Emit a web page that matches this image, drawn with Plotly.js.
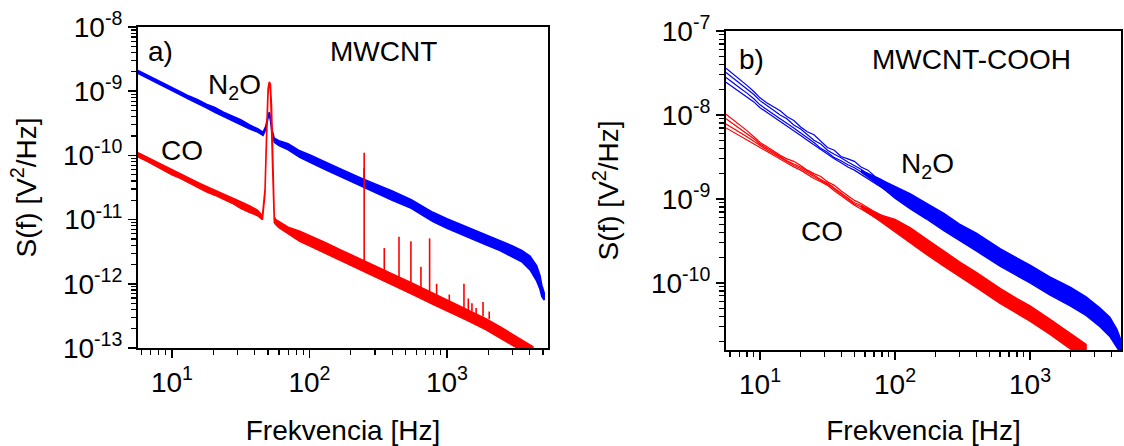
<!DOCTYPE html>
<html>
<head>
<meta charset="utf-8">
<script src="https://cdn.plot.ly/plotly-3.0.1.min.js"></script>
<style>html,body{margin:0;padding:0;background:#fff;}#chart{width:1124px;height:446px;}</style>
</head>
<body>
<div id="chart"></div>
<script>
// ---------- Panel a) MWCNT ----------
const fBlueA = [5.66, 6.5, 7.5, 8.7, 10, 11.5, 13.3, 15.4, 17.8, 20.5, 23.7, 27.4, 31.6, 36.5, 42, 46, 48, 50, 51, 52, 53.5, 55.5, 60, 70, 85, 100, 130, 170, 245, 400, 550, 790, 1000, 1400, 1900, 2430, 3000, 3500, 4020, 4500, 4750, 4900, 5100];
const blueALo = [1.9e-9, 1.65e-9, 1.4e-9, 1.2e-9, 1.02e-9, 8.8e-10, 7.5e-10, 6.5e-10, 5.5e-10, 4.7e-10, 4.1e-10, 3.5e-10, 3.0e-10, 2.6e-10, 2.3e-10, 2.05e-10, 2.5e-10, 3.8e-10, 4.3e-10, 3.5e-10, 2.2e-10, 1.6e-10, 1.42e-10, 1.22e-10, 9.3e-11, 7.9e-11, 6.0e-11, 4.6e-11, 3.2e-11, 2.0e-11, 1.5e-11, 9.3e-12, 7.3e-12, 5.4e-12, 4.1e-12, 3.3e-12, 2.6e-12, 2.2e-12, 1.65e-12, 1.1e-12, 8.2e-13, 6.3e-13, 5.6e-13];
const blueAHi = [2.1e-9, 1.8e-9, 1.55e-9, 1.32e-9, 1.12e-9, 9.8e-10, 8.4e-10, 7.4e-10, 6.3e-10, 5.6e-10, 4.7e-10, 4.1e-10, 3.6e-10, 3.0e-10, 2.6e-10, 2.3e-10, 2.8e-10, 4.2e-10, 4.7e-10, 4.0e-10, 2.5e-10, 1.85e-10, 1.7e-10, 1.52e-10, 1.18e-10, 1.03e-10, 7.9e-11, 6.1e-11, 4.3e-11, 2.8e-11, 2.05e-11, 1.3e-11, 1.03e-11, 7.7e-12, 5.9e-12, 4.8e-12, 3.9e-12, 3.3e-12, 2.7e-12, 1.9e-12, 1.35e-12, 9.5e-13, 7.2e-13];

const fRedA = [5.66, 6.5, 7.5, 8.7, 10, 11.5, 13.3, 15.4, 17.8, 20.5, 23.7, 27.4, 31.6, 36.5, 42, 45.5, 47.5, 49, 50, 51, 52, 53, 54, 55.5, 57, 60, 70, 85, 100, 130, 170, 240, 300, 400, 550, 790, 1000, 1400, 1900, 2430, 3000, 3600, 4220];
const redALo = [9.5e-11, 8.2e-11, 7.0e-11, 5.9e-11, 5.0e-11, 4.4e-11, 3.7e-11, 3.2e-11, 2.7e-11, 2.4e-11, 2.1e-11, 1.8e-11, 1.5e-11, 1.3e-11, 1.15e-11, 1.0e-11, 2.5e-11, 2.5e-10, 9.0e-10, 1.3e-9, 1.15e-9, 4.5e-10, 6.0e-11, 9.0e-12, 8.3e-12, 7.5e-12, 6.0e-12, 4.6e-12, 3.9e-12, 3.0e-12, 2.25e-12, 1.6e-12, 1.28e-12, 9.6e-13, 7.0e-13, 4.8e-13, 3.85e-13, 2.7e-13, 1.95e-13, 1.42e-13, 1.1e-13, 0.88e-13, 0.7e-13];
const redAHi = [1.1e-10, 9.5e-11, 8.0e-11, 6.8e-11, 5.9e-11, 5.2e-11, 4.4e-11, 3.8e-11, 3.3e-11, 2.9e-11, 2.5e-11, 2.2e-11, 1.9e-11, 1.65e-11, 1.4e-11, 1.15e-11, 3.0e-11, 3.2e-10, 1.1e-9, 1.4e-9, 1.3e-9, 6.0e-10, 8.0e-11, 1.1e-11, 1.0e-11, 9.3e-12, 7.6e-12, 6.6e-12, 5.7e-12, 4.4e-12, 3.35e-12, 2.4e-12, 1.9e-12, 1.43e-12, 1.04e-12, 7.2e-13, 5.7e-13, 4.0e-13, 2.9e-13, 2.15e-13, 1.65e-13, 1.32e-13, 1.05e-13];

// narrow harmonic lines on the spectra
const spikeF    = [250, 350, 448, 547, 647, 748, 841, 1040, 1330, 1430, 1520, 1630, 1830, 2030];
const spikeBase = [2.0e-12, 1.4e-12, 1.1e-12, 9.5e-13, 8.2e-13, 7.2e-13, 6.5e-13, 5.3e-13, 4.2e-13, 3.9e-13, 3.7e-13, 3.4e-13, 3.1e-13, 2.8e-13];
const spikePeak = [1.1e-10, 3.6e-12, 5.4e-12, 4.6e-12, 1.85e-12, 5.1e-12, 1.0e-12, 6.8e-13, 1.0e-12, 5.9e-13, 5.0e-13, 4.2e-13, 5.2e-13, 3.7e-13];
const blueSpikeF    = [250];
const blueSpikeBase = [3.7e-11];
const blueSpikePeak = [6.3e-11];

// ---------- Panel b) MWCNT-COOH ----------
const fCurveB = [5.6, 6.3, 7.1, 8, 9, 10, 11.2, 12.6, 14.1, 15.8, 17.8, 20, 22.4, 25.1, 28.2, 31.6, 35.5, 39.8, 44.7, 50, 56, 63, 71, 79, 89, 100];
const blueB1 = [3.6e-8, 3.1e-8, 2.65e-8, 2.25e-8, 1.9e-8, 1.6e-8, 1.4e-8, 1.25e-8, 1.12e-8, 9.6e-9, 8.6e-9, 7.2e-9, 6.3e-9, 5.8e-9, 4.8e-9, 4.1e-9, 3.8e-9, 3.2e-9, 3.0e-9, 2.8e-9, 2.4e-9, 2.2e-9, 1.85e-9, 1.7e-9, 1.5e-9, 1.32e-9];
const blueB2 = [3.2e-8, 2.75e-8, 2.4e-8, 2.05e-8, 1.75e-8, 1.48e-8, 1.3e-8, 1.12e-8, 1.0e-8, 9.0e-9, 7.6e-9, 6.8e-9, 5.9e-9, 5.0e-9, 4.5e-9, 3.8e-9, 3.4e-9, 3.1e-9, 2.75e-9, 2.5e-9, 2.25e-9, 1.95e-9, 1.75e-9, 1.55e-9, 1.38e-9, 1.22e-9];
const blueB3 = [2.8e-8, 2.45e-8, 2.1e-8, 1.82e-8, 1.56e-8, 1.32e-8, 1.15e-8, 1.02e-8, 9.0e-9, 8.0e-9, 7.0e-9, 6.1e-9, 5.4e-9, 4.7e-9, 4.0e-9, 3.6e-9, 3.1e-9, 2.85e-9, 2.55e-9, 2.35e-9, 2.1e-9, 1.85e-9, 1.62e-9, 1.45e-9, 1.3e-9, 1.15e-9];
const blueB4 = [2.45e-8, 2.15e-8, 1.88e-8, 1.65e-8, 1.43e-8, 1.22e-8, 1.08e-8, 9.5e-9, 8.4e-9, 7.4e-9, 6.6e-9, 5.7e-9, 5.0e-9, 4.4e-9, 3.9e-9, 3.4e-9, 3.0e-9, 2.7e-9, 2.4e-9, 2.2e-9, 1.95e-9, 1.75e-9, 1.55e-9, 1.38e-9, 1.22e-9, 1.08e-9];
const redB1 = [1.02e-8, 8.8e-9, 7.6e-9, 6.5e-9, 5.5e-9, 4.7e-9, 4.2e-9, 3.7e-9, 3.3e-9, 3.0e-9, 2.8e-9, 2.5e-9, 2.2e-9, 2.0e-9, 1.85e-9, 1.6e-9, 1.45e-9, 1.25e-9, 1.1e-9, 9.6e-10, 8.8e-10, 7.8e-10, 7.0e-10, 6.4e-10, 5.6e-10, 5.2e-10];
const redB2 = [9.0e-9, 7.9e-9, 6.9e-9, 6.0e-9, 5.2e-9, 4.5e-9, 4.0e-9, 3.6e-9, 3.15e-9, 2.85e-9, 2.6e-9, 2.4e-9, 2.15e-9, 1.9e-9, 1.7e-9, 1.55e-9, 1.35e-9, 1.2e-9, 1.05e-9, 9.0e-10, 8.4e-10, 7.4e-10, 6.6e-10, 6.0e-10, 5.4e-10, 4.9e-10];
const redB3 = [7.8e-9, 7.0e-9, 6.2e-9, 5.5e-9, 4.85e-9, 4.3e-9, 3.85e-9, 3.45e-9, 3.1e-9, 2.75e-9, 2.5e-9, 2.3e-9, 2.05e-9, 1.85e-9, 1.65e-9, 1.5e-9, 1.3e-9, 1.15e-9, 1.0e-9, 8.7e-10, 8.0e-10, 7.0e-10, 6.3e-10, 5.7e-10, 5.1e-10, 4.6e-10];
const redB4 = [7.0e-9, 6.3e-9, 5.7e-9, 5.1e-9, 4.55e-9, 4.1e-9, 3.7e-9, 3.3e-9, 2.95e-9, 2.65e-9, 2.4e-9, 2.2e-9, 1.95e-9, 1.75e-9, 1.6e-9, 1.45e-9, 1.25e-9, 1.1e-9, 9.6e-10, 8.4e-10, 7.6e-10, 6.7e-10, 6.0e-10, 5.4e-10, 4.8e-10, 4.4e-10];

const fBlueBandB = [56, 79, 100, 130, 170, 230, 300, 400, 600, 800, 1000, 1400, 2000, 2600, 3300, 3900, 4400, 4700];
const blueBLo = [2.1e-9, 1.4e-9, 1.02e-9, 7.6e-10, 5.8e-10, 4.2e-10, 3.2e-10, 2.4e-10, 1.58e-10, 1.22e-10, 1.0e-10, 7.2e-11, 5.3e-11, 4.1e-11, 3.0e-11, 2.3e-11, 1.7e-11, 1.45e-11];
const blueBHi = [2.2e-9, 1.68e-9, 1.42e-9, 1.15e-9, 8.9e-10, 6.7e-10, 5.0e-10, 3.9e-10, 2.55e-10, 1.98e-10, 1.62e-10, 1.18e-10, 8.8e-11, 6.8e-11, 5.0e-11, 3.9e-11, 2.8e-11, 2.1e-11];

const fRedBandB = [56, 79, 100, 130, 170, 230, 300, 400, 600, 800, 1000, 1400, 1900, 2300, 2600];
const redBLo = [7.9e-10, 5.4e-10, 4.1e-10, 3.0e-10, 2.2e-10, 1.58e-10, 1.18e-10, 8.8e-11, 5.7e-11, 4.3e-11, 3.5e-11, 2.45e-11, 1.72e-11, 1.38e-11, 1.2e-11];
const redBHi = [8.3e-10, 6.4e-10, 5.7e-10, 4.5e-10, 3.35e-10, 2.4e-10, 1.78e-10, 1.33e-10, 8.6e-11, 6.5e-11, 5.3e-11, 3.7e-11, 2.6e-11, 2.1e-11, 1.85e-11];

// ---------- tick labels ----------
const xTickVals = [10, 100, 1000];
const xTickText = ['10<sup>1</sup>', '10<sup>2</sup>', '10<sup>3</sup>'];
const yTickValsA = [1e-13, 1e-12, 1e-11, 1e-10, 1e-9, 1e-8];
const yTickTextA = ['10<sup>-13</sup>', '10<sup>-12</sup>', '10<sup>-11</sup>', '10<sup>-10</sup>', '10<sup>-9</sup>', '10<sup>-8</sup>'];
const yTickValsB = [1e-10, 1e-9, 1e-8, 1e-7];
const yTickTextB = ['10<sup>-10</sup>', '10<sup>-9</sup>', '10<sup>-8</sup>', '10<sup>-7</sup>'];

const BLUE = '#0000ff', RED = '#ff0000';

function band(f, lo, hi, color, xa, ya) {
  const xs = f.concat(f.slice().reverse());
  const ys = hi.concat(lo.slice().reverse());
  return {x: xs, y: ys, xaxis: xa, yaxis: ya, mode: 'lines', fill: 'toself',
          fillcolor: color, line: {color: color, width: 1.5}, hoverinfo: 'skip', showlegend: false};
}
function curve(f, v, color, xa, ya, w) {
  return {x: f, y: v, xaxis: xa, yaxis: ya, mode: 'lines', line: {color: color, width: w || 1.2}, showlegend: false};
}
function spikes(f, base, peak, color, xa, ya) {
  const xs = [], ys = [];
  f.forEach((v, i) => { xs.push(v, v, null); ys.push(base[i], peak[i], null); });
  return {x: xs, y: ys, xaxis: xa, yaxis: ya, mode: 'lines', line: {color: color, width: 1.6}, showlegend: false};
}

const data = [
  band(fBlueA, blueALo, blueAHi, BLUE, 'x', 'y'),
  spikes(blueSpikeF, blueSpikeBase, blueSpikePeak, BLUE, 'x', 'y'),
  band(fRedA, redALo, redAHi, RED, 'x', 'y'),
  spikes(spikeF, spikeBase, spikePeak, RED, 'x', 'y'),
  curve(fCurveB, blueB1, BLUE, 'x2', 'y2'),
  curve(fCurveB, blueB2, BLUE, 'x2', 'y2'),
  curve(fCurveB, blueB3, BLUE, 'x2', 'y2'),
  curve(fCurveB, blueB4, BLUE, 'x2', 'y2'),
  band(fBlueBandB, blueBLo, blueBHi, BLUE, 'x2', 'y2'),
  curve(fCurveB, redB1, RED, 'x2', 'y2'),
  curve(fCurveB, redB2, RED, 'x2', 'y2'),
  curve(fCurveB, redB3, RED, 'x2', 'y2'),
  curve(fCurveB, redB4, RED, 'x2', 'y2'),
  band(fRedBandB, redBLo, redBHi, RED, 'x2', 'y2')
];

function minorVals(d0, d1) {
  const out = [];
  for (let d = d0; d <= d1; d++) for (let k = 2; k <= 9; k++) out.push(k * Math.pow(10, d));
  return out;
}

const FONT = {family: 'Liberation Sans, Arial, sans-serif', size: 28, color: '#000'};
const TICKFONT = {family: 'Liberation Sans, Arial, sans-serif', size: 28, color: '#000'};

function xAxis(domain, range, anchor) {
  return {type: 'log', domain: domain, range: range, anchor: anchor,
    tickmode: 'array', tickvals: xTickVals, ticktext: xTickText,
    ticks: 'outside', ticklen: 8, tickwidth: 1.5, tickcolor: '#000',
    minor: {tickmode: 'array', tickvals: minorVals(0, 3), ticks: 'outside', ticklen: 5, tickwidth: 1.2, tickcolor: '#000'},
    showline: true, linecolor: '#000', linewidth: 2, mirror: true,
    showgrid: false, zeroline: false, tickfont: TICKFONT,
    title: {text: 'Frekvencia [Hz]', font: FONT, standoff: 25}};
}
function yAxis(domain, range, anchor, tv, tt, standoff) {
  return {type: 'log', domain: domain, range: range, anchor: anchor,
    tickmode: 'array', tickvals: tv, ticktext: tt,
    ticks: 'outside', ticklen: 8, tickwidth: 1.5, tickcolor: '#000',
    minor: {tickmode: 'array', tickvals: minorVals(-14, -7), ticks: 'outside', ticklen: 5, tickwidth: 1.2, tickcolor: '#000'},
    showline: true, linecolor: '#000', linewidth: 2, mirror: true,
    showgrid: false, zeroline: false, tickfont: TICKFONT,
    title: {text: 'S(f) [V<sup>2</sup>/Hz]', font: FONT, standoff: standoff}};
}

const W = 1124, H = 446;
const px = v => v / W, py = v => 1 - v / H;

const layout = {
  width: W, height: H,
  margin: {l: 0, r: 0, t: 0, b: 0},
  paper_bgcolor: '#fff', plot_bgcolor: '#fff',
  font: FONT,
  showlegend: false,
  xaxis: xAxis([px(138), px(548)], [0.753, 3.735], 'y'),
  yaxis: yAxis([py(348), py(27)], [-13, -8], 'x', yTickValsA, yTickTextA, 18),
  xaxis2: xAxis([px(726), px(1121)], [0.748, 3.674], 'y2'),
  yaxis2: yAxis([py(350), py(31)], [-10.8, -7], 'x2', yTickValsB, yTickTextB, 24),
  annotations: [
    {text: 'a)', x: px(160), y: py(51)},
    {text: 'MWCNT', x: px(383), y: py(51)},
    {text: 'N<sub>2</sub>O', x: px(234), y: py(86)},
    {text: 'CO', x: px(182), y: py(150)},
    {text: 'b)', x: px(751), y: py(59)},
    {text: 'MWCNT-COOH', x: px(971), y: py(59)},
    {text: 'N<sub>2</sub>O', x: px(927), y: py(166)},
    {text: 'CO', x: px(822), y: py(232)}
  ].map(a => Object.assign({xref: 'paper', yref: 'paper', xanchor: 'center', yanchor: 'middle', showarrow: false, font: FONT}, a))
};

Plotly.newPlot('chart', data, layout, {staticPlot: true, displayModeBar: false});
</script>
</body>
</html>
